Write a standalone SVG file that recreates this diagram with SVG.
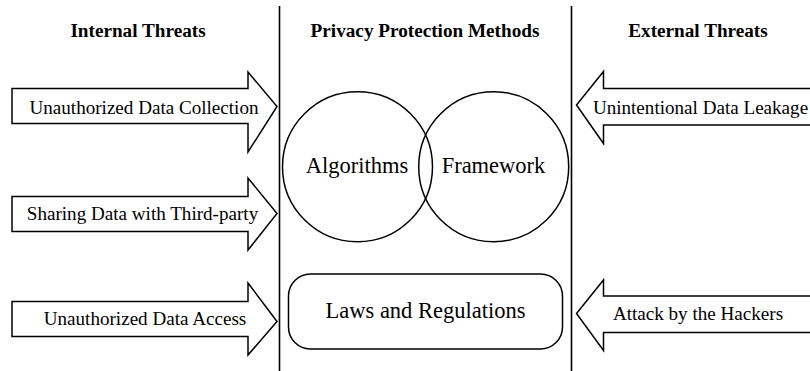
<svg xmlns="http://www.w3.org/2000/svg" width="810" height="371" viewBox="0 0 810 371">
<style>
.s{fill:#fff;stroke:#000;stroke-width:1.5;}
.c{fill:none;stroke:#000;stroke-width:1.5;}
.l{stroke:#000;stroke-width:1.6;fill:none;}
.h{font-family:"Liberation Serif","Times New Roman",serif;font-weight:bold;font-size:19.2px;text-anchor:middle;fill:#000;}
.t{font-family:"Liberation Serif","Times New Roman",serif;font-size:19.1px;text-anchor:middle;fill:#000;}
.b{font-family:"Liberation Serif","Times New Roman",serif;font-size:22.5px;text-anchor:middle;fill:#000;}
</style>
<rect width="810" height="371" fill="#fff"/>
<g id="dividers">
<line class="l" x1="279.5" y1="6" x2="279.5" y2="371"/>
<line class="l" x1="571.5" y1="6" x2="571.5" y2="371"/>
</g>
<g id="headers">
<text class="h" x="138" y="37">Internal Threats</text>
<text class="h" x="425" y="37">Privacy Protection Methods</text>
<text class="h" x="698" y="37">External Threats</text>
</g>
<g id="internal-1">
<polygon class="s" points="12,88.5 248,88.5 248,72 277,106.5 248,152 248,123.5 12,123.5"/>
<text class="t" x="144" y="114">Unauthorized Data Collection</text>
</g>
<g id="internal-2">
<polygon class="s" points="12,196.5 248,196.5 248,178 277,213.5 248,250 248,231.5 12,231.5"/>
<text class="t" x="142.5" y="220">Sharing Data with Third-party</text>
</g>
<g id="internal-3">
<polygon class="s" points="12,301.5 248,301.5 248,283 277,321.5 248,355 248,336.5 12,336.5"/>
<text class="t" x="145" y="325">Unauthorized Data Access</text>
</g>
<g id="external-1">
<polygon class="s" points="812,88.5 603.5,88.5 603.5,71.5 576.5,105 603.5,143.5 603.5,125 812,125"/>
<text class="t" x="700.5" y="114">Unintentional Data Leakage</text>
</g>
<g id="external-2">
<polygon class="s" points="812,296 603.5,296 603.5,280 576.5,313.5 603.5,350.5 603.5,332.5 812,332.5"/>
<text class="t" x="698" y="320">Attack by the Hackers</text>
</g>
<g id="algorithms">
<circle class="c" cx="357.5" cy="166.7" r="75"/>
<text class="b" x="357" y="173">Algorithms</text>
</g>
<g id="framework">
<circle class="c" cx="493.7" cy="166.7" r="75"/>
<text class="b" x="493.5" y="173">Framework</text>
</g>
<g id="laws">
<rect class="s" x="288.5" y="274" width="274" height="75" rx="22" ry="22"/>
<text class="b" x="425.5" y="318">Laws and Regulations</text>
</g>
</svg>
